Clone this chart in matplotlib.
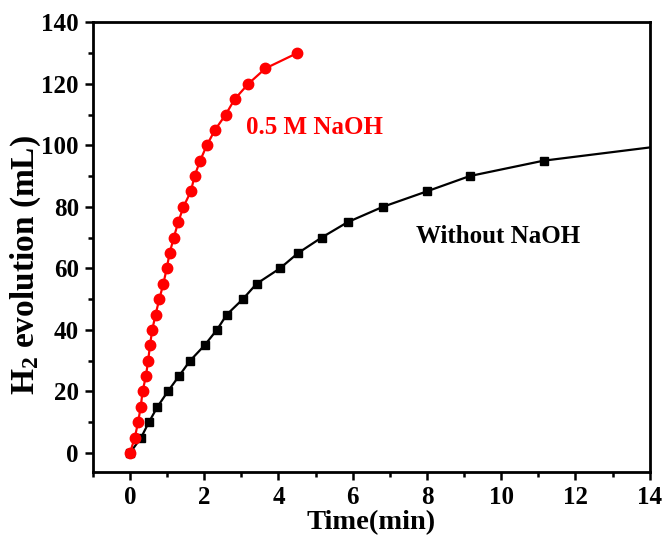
import numpy as np
import matplotlib
matplotlib.use("Agg")
import matplotlib.pyplot as plt
from matplotlib.ticker import MultipleLocator

# Datos
t_naoh = [0, 0.13, 0.22, 0.29, 0.34, 0.43, 0.49, 0.54, 0.60, 0.69, 0.79, 0.90, 0.99,
          1.07, 1.18, 1.30, 1.44, 1.64, 1.74, 1.89, 2.07, 2.29, 2.58, 2.82, 3.19, 3.65, 4.51]
v_naoh = list(range(0, 131, 5))

t_sin = [0, 0.30, 0.51, 0.74, 1.02, 1.32, 1.62, 2.01, 2.34, 2.61, 3.04,
         3.41, 4.04, 4.53, 5.16, 5.86, 6.81, 7.99, 9.15, 11.14, 14.0]
v_sin = [0, 5, 10, 15, 20, 25, 30, 35, 40, 45, 50,
         55, 60, 65, 70, 75, 80, 85, 90, 95, 99.3]

plt.rcParams['font.family'] = ['Liberation Serif', 'DejaVu Serif']
plt.rcParams['font.weight'] = 'bold'
plt.rcParams['mathtext.fontset'] = 'custom'
plt.rcParams['mathtext.rm'] = 'Liberation Serif:bold'
plt.rcParams['mathtext.bf'] = 'Liberation Serif:bold'
plt.rcParams['mathtext.it'] = 'Liberation Serif:bold'

fig = plt.figure(figsize=(6.63, 5.42), dpi=100)
ax = fig.add_axes([0.140, 0.129, 0.840, 0.830])

# sin NaOH (el ultimo punto solo prolonga la linea)
ax.plot(t_sin, v_sin, color='black', lw=1.6, marker='s', markersize=6,
        markevery=list(range(len(t_sin) - 1)), zorder=2)
ax.plot(t_naoh, v_naoh, color='red', lw=1.6, marker='o', markersize=7.5, zorder=3)

ax.text(3.12, 103.6, '0.5 M NaOH', color='red', fontsize=18, fontweight='bold')
ax.text(7.7, 68.2, 'Without NaOH', color='black', fontsize=18, fontweight='bold')

ax.set_xlim(-1, 14)
ax.set_ylim(-6.2, 140)
ax.xaxis.set_major_locator(MultipleLocator(2))
ax.xaxis.set_minor_locator(MultipleLocator(1))
ax.yaxis.set_major_locator(MultipleLocator(20))
ax.yaxis.set_minor_locator(MultipleLocator(10))

ax.tick_params(which='both', direction='out', width=1.8, top=False, right=False, labelsize=18)
ax.tick_params(which='major', length=6, pad=4)
ax.tick_params(which='minor', length=3.5)
for s in ax.spines.values():
    s.set_linewidth(2.0)

ax.set_xlabel('Time(min)', fontsize=20.5, fontweight='bold', labelpad=1)
ax.set_ylabel('H$_2$ evolution (mL)', fontsize=24, fontweight='bold')
ax.yaxis.set_label_coords(-0.09, 0.46)

fig.savefig('out.png', dpi=100)
